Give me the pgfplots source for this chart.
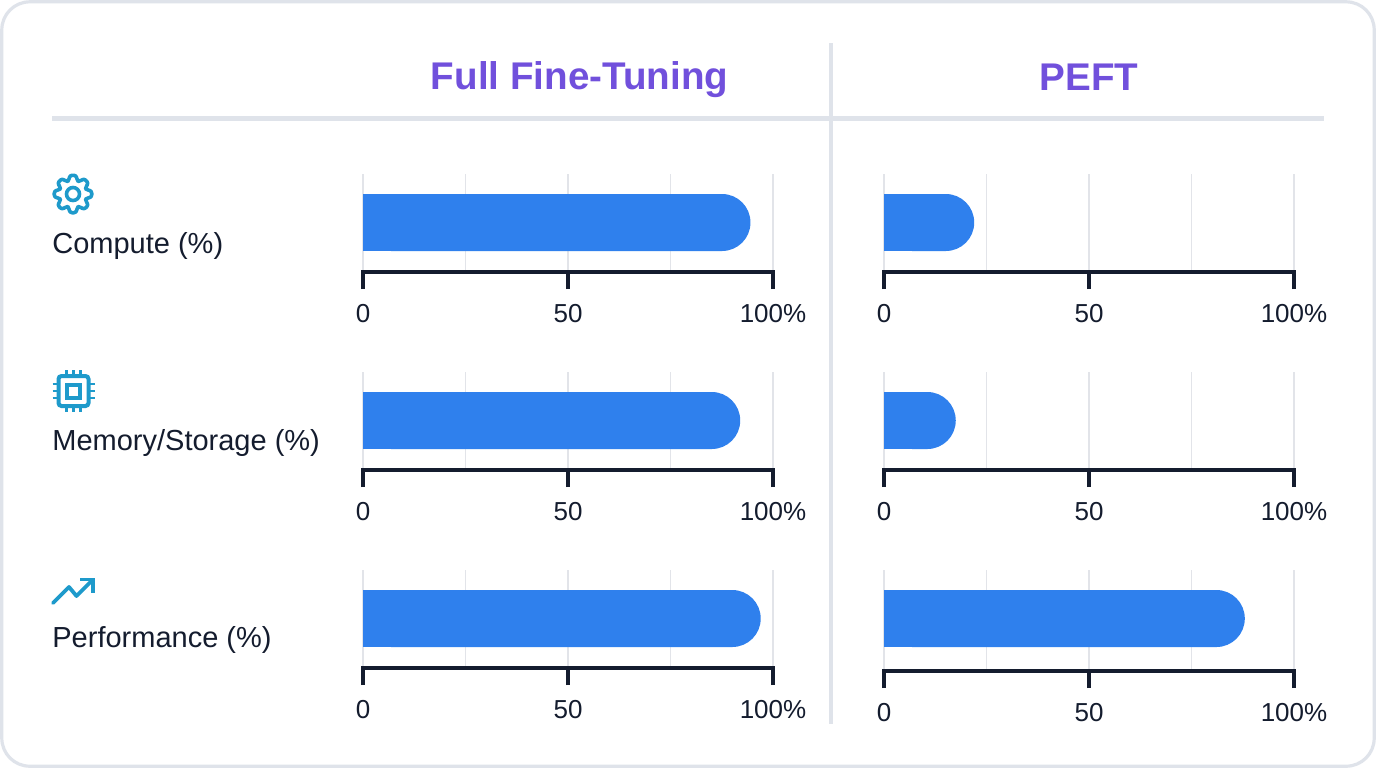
\documentclass[border=0pt]{standalone}
\usepackage{pgfplots}
\pgfplotsset{compat=1.18}
\usepackage{fontspec}
\setmainfont{Liberation Sans}
\definecolor{barblue}{HTML}{2F80ED}
\definecolor{titlepurple}{HTML}{7150DC}
\definecolor{rulegrey}{HTML}{DFE3EA}
\definecolor{gridgrey}{HTML}{E2E4E9}
\definecolor{inkdark}{HTML}{141C2E}
\definecolor{iconblue}{HTML}{1E9ACB}
% 1 px of the reference = 0.5 pt
\pgfplotsset{
  panel/.style={
    scale only axis, width=205pt,
    xmin=0, xmax=100, ymin=0,
    axis x line=bottom, axis y line=none,
    axis line style={draw=inkdark, line width=2.3pt, -, line cap=rect},
    x axis line style={-},
    xtick={0,50,100}, xticklabels={0,50,100\%},
    minor xtick={25,75},
    xmajorgrids, xminorgrids,
    major grid style={draw=gridgrey, line width=0.6pt},
    minor grid style={draw=gridgrey, line width=0.6pt},
    tick align=outside,
    major tick length=8.5pt, minor tick length=0pt,
    major tick style={draw=inkdark, line width=2.3pt},
    minor tick style={draw=none},
    tick label style={font=\fontsize{13}{15}\selectfont, text=inkdark},
    xticklabel style={yshift=-4pt},
    /pgf/number format/assume math mode=true,
    clip=false,
  },
  roundbar/.style={xbar, bar width=28.5pt, fill=barblue, draw=none, bar shift=0pt, rounded corners=14.2pt},
  squarebar/.style={xbar, bar width=28.5pt, fill=barblue, draw=none, bar shift=0pt},
}
% #1 x px, #2 axis y px, #3 grid top px, #4 bar centre px, #5 value, #6 square part
\newcommand{\panel}[6]{%
  \pgfmathsetmacro{\ytop}{#2-#3}%
  \pgfmathsetmacro{\ybar}{#2-#4}%
  \begin{axis}[panel, height=\ytop*0.5pt, ymax=\ytop, at={(#1*0.5pt,-#2*0.5pt)}, anchor=south west]
    \addplot[roundbar] coordinates {(#5,\ybar)};
    \addplot[squarebar] coordinates {(#6,\ybar)};
  \end{axis}
}
\begin{document}
\begin{tikzpicture}[x=0.5pt,y=-0.5pt]
  \useasboundingbox (0,0) rectangle (1376,768);
  \fill[white] (0,0) rectangle (1376,768);
  \draw[rulegrey, line width=1.6pt, rounded corners=14pt] (1.8,1.8) rectangle (1374.2,766.2);
  \draw[rulegrey, line width=2.2pt] (52,118.5) -- (1324,118.5);
  \draw[rulegrey, line width=2.2pt] (831,43) -- (831,724);
  \node[font=\fontsize{19.3}{22}\selectfont\bfseries, text=titlepurple] at (579.5,80) {Full Fine-Tuning};
  \node[font=\fontsize{19.3}{22}\selectfont\bfseries, text=titlepurple] at (1089,77.5) {PEFT};
  % row labels
  \foreach \yy/\tt in {246/Compute (\%),443/{Memory/Storage (\%)},640/Performance (\%)}
    \node[anchor=west, inner sep=0pt, font=\fontsize{14.5}{16}\selectfont, text=inkdark] at (52,\yy) {\tt};
  % gear icon
  \def\tooth#1{(#1-17:14) -- (#1-10:19) -- (#1+10:19) -- (#1+17:14) --}
  \begin{scope}[shift={(73,194)}]
    \draw[iconblue, line width=1.8pt, rounded corners=1.2pt, line join=round]
      \tooth{0} \tooth{45} \tooth{90} \tooth{135} \tooth{180} \tooth{225} \tooth{270} \tooth{315} cycle;
    \draw[iconblue, line width=1.8pt] (0,0) circle (6.5);
  \end{scope}
  % chip icon
  \begin{scope}[shift={(73.5,391)}]
    \draw[iconblue, line width=2pt, rounded corners=1.5pt] (-15,-15) rectangle (15,15);
    \draw[iconblue, line width=2pt] (-6.5,-6.5) rectangle (6.5,6.5);
    \foreach \s in {-7,0,7} {
      \draw[iconblue, line width=1.4pt] (\s,-21) -- (\s,-15);
      \draw[iconblue, line width=1.4pt] (\s,15) -- (\s,21);
      \draw[iconblue, line width=1.4pt] (-21,\s) -- (-15,\s);
      \draw[iconblue, line width=1.4pt] (15,\s) -- (21,\s);
    }
  \end{scope}
  % trend icon
  \draw[iconblue, line width=1.9pt, line join=round, line cap=round] (53,603) -- (69,587) -- (76.5,596) -- (93,579.5);
  \draw[iconblue, line width=1.9pt, line join=miter, line cap=butt] (80,579.5) -- (93,579.5) -- (93,593);
  % panels
  \panel{363}{272}{174}{222.5}{94.5}{50}
  \panel{884}{272}{174}{222.5}{22}{8}
  \panel{363}{470}{372}{420.5}{92}{50}
  \panel{884}{470}{372}{420.5}{17.5}{6}
  \panel{363}{668}{570}{618.5}{97}{50}
  \panel{884}{671}{570}{618.5}{88}{50}
\end{tikzpicture}
\end{document}
